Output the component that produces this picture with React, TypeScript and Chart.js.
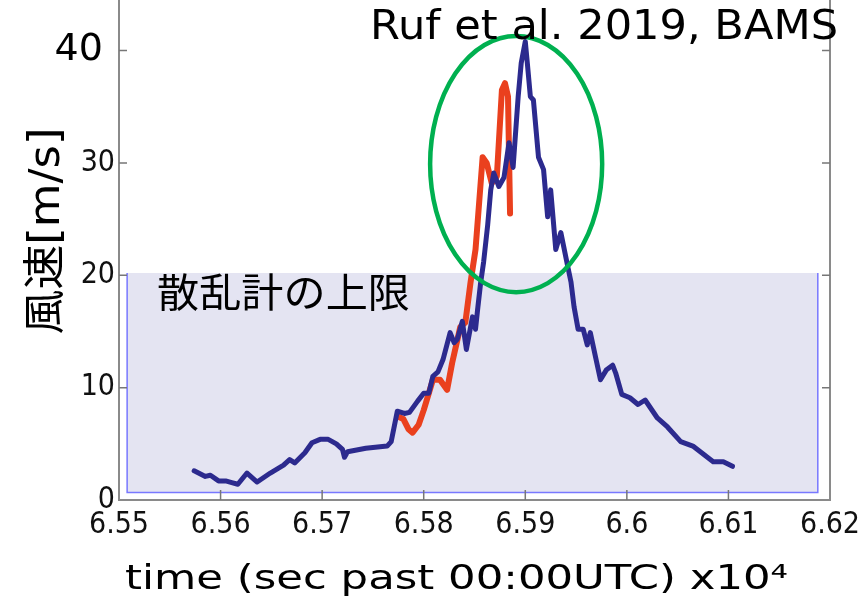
import React, { useEffect, useRef } from 'react';
import { Chart, registerables } from 'chart.js';

Chart.register(...registerables);

// ---- data ----
const X_TICKS = [6.55, 6.56, 6.57, 6.58, 6.59, 6.6, 6.61, 6.62];
const Y_TICKS = [0, 10, 20, 30, 40];
const X_RANGE = [6.55, 6.62];
const Y_RANGE = [0, 44.5];

const BLUE_X = [
  6.5574, 6.5585, 6.559, 6.5598, 6.5605, 6.5611, 6.5617, 6.5626, 6.5631, 6.5636,
  6.5649, 6.5662, 6.5668, 6.5673, 6.5683, 6.569, 6.5698, 6.5706, 6.5714, 6.572,
  6.5722, 6.5725, 6.5743, 6.5764, 6.5768, 6.5774, 6.5781, 6.5786, 6.5794, 6.58,
  6.5805, 6.5809, 6.5814, 6.5819, 6.5826, 6.583, 6.5833, 6.5838, 6.5842, 6.5848,
  6.5851, 6.5853, 6.5856, 6.5859, 6.5863, 6.5866, 6.5869, 6.5874, 6.5879, 6.5884,
  6.5888, 6.5893, 6.5896, 6.59, 6.5902, 6.5905, 6.5908, 6.5913, 6.5918, 6.5922,
  6.5925, 6.593, 6.5935, 6.5942, 6.5945, 6.5948, 6.5952, 6.5957, 6.5961, 6.5964,
  6.5969, 6.5974, 6.598, 6.5986, 6.5989, 6.5995, 6.6003, 6.6011, 6.6018, 6.603,
  6.604, 6.6053, 6.6065, 6.6085, 6.6095, 6.6104,
];
const BLUE_Y = [
  2.6, 2.1, 2.2, 1.7, 1.7, 1.55, 1.4, 2.4, 2.0, 1.6,
  2.4, 3.1, 3.6, 3.3, 4.2, 5.1, 5.4, 5.4, 5.0, 4.5,
  3.8, 4.3, 4.6, 4.8, 5.2, 7.9, 7.7, 7.8, 8.8, 9.5,
  9.5, 11.0, 11.4, 12.5, 14.9, 14.0, 14.3, 15.9, 13.4, 16.3,
  15.2, 16.9, 19.3, 21.2, 24.5, 27.6, 29.1, 27.9, 28.7, 31.8,
  29.6, 35.9, 38.9, 40.8, 38.9, 35.9, 35.6, 30.5, 29.4, 25.2,
  27.6, 22.3, 23.8, 20.7, 19.4, 17.2, 15.2, 15.2, 13.8, 14.9,
  12.8, 10.7, 11.6, 12.0, 11.3, 9.4, 9.1, 8.5, 8.9, 7.3,
  6.5, 5.2, 4.8, 3.4, 3.4, 3.0,
];

const RED_X = [
  6.5775, 6.578, 6.5785, 6.5789, 6.5795, 6.58, 6.5809, 6.5816, 6.5823, 6.5828,
  6.5836, 6.5841, 6.5846, 6.5851, 6.5854, 6.5858, 6.5862, 6.5867, 6.5872, 6.5877,
  6.588, 6.5883, 6.5885,
];
const RED_Y = [
  7.4, 7.2, 6.3, 6.0, 6.7, 8.0, 10.7, 10.7, 9.8, 12.2,
  15.4, 15.8, 19.3, 22.3, 25.8, 30.5, 30.0, 28.2, 28.8, 36.5,
  37.1, 35.9, 25.5,
];

// scatterometer upper-limit band
const LIMIT_X = [6.5508, 6.6188];
const LIMIT_Y = [0.67, 20.2];

// highlighted region (centre and radii in data units)
const ELLIPSE_CENTER = [6.5891, 29.9];
const ELLIPSE_RADII = [0.00847, 11.4];

const TITLE = 'Ruf et al. 2019, BAMS';
const LIMIT_LABEL = '散乱計の上限';
const X_TITLE = 'time (sec past 00:00UTC) x10⁴';
const Y_TITLE = '風速[m/s]';

const TICK_FONT = '"Liberation Sans Narrow", "DejaVu Sans Condensed", "Liberation Sans", Arial, sans-serif';
const TEXT_FONT = '"DejaVu Sans", "Noto Sans CJK JP", sans-serif';

function drawFit(
  ctx: CanvasRenderingContext2D,
  text: string,
  x: number,
  y: number,
  width: number,
  font: string,
  align: CanvasTextAlign,
  baseline: CanvasTextBaseline,
  rotate = 0
) {
  ctx.save();
  ctx.font = font;
  ctx.textAlign = align;
  ctx.textBaseline = baseline;
  ctx.fillStyle = '#000';
  const w = ctx.measureText(text).width;
  ctx.translate(x, y);
  if (rotate) ctx.rotate(rotate);
  ctx.scale(width / w, 1);
  ctx.fillText(text, 0, 0);
  ctx.restore();
}

const decorPlugin = {
  id: 'decor',
  beforeDatasetsDraw(chart: any) {
    const { ctx, scales } = chart;
    const xs = scales.x;
    const ys = scales.y;
    const l = xs.getPixelForValue(LIMIT_X[0]);
    const r = xs.getPixelForValue(LIMIT_X[1]);
    const b = ys.getPixelForValue(LIMIT_Y[0]);
    const t = ys.getPixelForValue(LIMIT_Y[1]);
    ctx.save();
    ctx.fillStyle = '#e4e4f2';
    ctx.fillRect(l, t, r - l, b - t);
    ctx.strokeStyle = '#7878ff';
    ctx.lineWidth = 1.5;
    ctx.beginPath();
    ctx.moveTo(l, t);
    ctx.lineTo(l, b);
    ctx.lineTo(r, b);
    ctx.lineTo(r, t);
    ctx.stroke();
    ctx.restore();
  },
  afterDatasetsDraw(chart: any) {
    const { ctx, scales, chartArea } = chart;
    const xs = scales.x;
    const ys = scales.y;
    ctx.save();
    // axes frame
    ctx.strokeStyle = '#8a8a8a';
    ctx.lineWidth = 2;
    ctx.beginPath();
    ctx.moveTo(chartArea.left, chartArea.top);
    ctx.lineTo(chartArea.left, chartArea.bottom);
    ctx.lineTo(chartArea.right, chartArea.bottom);
    ctx.lineTo(chartArea.right, chartArea.top);
    ctx.stroke();
    // inward ticks
    ctx.lineWidth = 1.5;
    ctx.strokeStyle = '#777';
    ctx.beginPath();
    Y_TICKS.forEach((v) => {
      if (v === 0) return;
      const py = ys.getPixelForValue(v);
      ctx.moveTo(chartArea.left, py);
      ctx.lineTo(chartArea.left + 8, py);
      ctx.moveTo(chartArea.right, py);
      ctx.lineTo(chartArea.right - 8, py);
    });
    X_TICKS.forEach((v, i) => {
      if (i === 0 || i === X_TICKS.length - 1) return;
      const px = xs.getPixelForValue(v);
      ctx.moveTo(px, chartArea.bottom);
      ctx.lineTo(px, chartArea.bottom - 10);
    });
    ctx.stroke();

    // ellipse
    const cx = xs.getPixelForValue(ELLIPSE_CENTER[0]);
    const cy = ys.getPixelForValue(ELLIPSE_CENTER[1]);
    const rx = Math.abs(xs.getPixelForValue(ELLIPSE_CENTER[0] + ELLIPSE_RADII[0]) - cx);
    const ry = Math.abs(ys.getPixelForValue(ELLIPSE_CENTER[1] + ELLIPSE_RADII[1]) - cy);
    ctx.strokeStyle = '#00b050';
    ctx.lineWidth = 4.5;
    ctx.beginPath();
    ctx.ellipse(cx, cy, rx, ry, 0, 0, Math.PI * 2);
    ctx.stroke();
    ctx.restore();

    // texts
    drawFit(ctx, TITLE, 838, 39, 468, `40px ${TEXT_FONT}`, 'right', 'alphabetic');
    drawFit(ctx, LIMIT_LABEL, 157, 292, 253, `40px "Noto Sans CJK JP", sans-serif`, 'left', 'middle');
    drawFit(ctx, X_TITLE, 125, 589, 663, `34px ${TEXT_FONT}`, 'left', 'alphabetic');
    drawFit(ctx, Y_TITLE, 48, 231, 207, `42px ${TEXT_FONT}`, 'center', 'middle', -Math.PI / 2);
  },
};

export default function App() {
  const ref = useRef<HTMLCanvasElement | null>(null);
  useEffect(() => {
    if (!ref.current) return;
    const blue = BLUE_X.map((x, i) => ({ x, y: BLUE_Y[i] }));
    const red = RED_X.map((x, i) => ({ x, y: RED_Y[i] }));
    const chart = new Chart(ref.current, {
      type: 'line',
      data: {
        datasets: [
          {
            label: 'blue',
            data: blue,
            borderColor: '#2c2a8e',
            borderWidth: 5,
            pointRadius: 0,
            tension: 0,
            fill: false,
            borderJoinStyle: 'round',
            borderCapStyle: 'round',
          },
          {
            label: 'red',
            data: red,
            borderColor: '#ea401e',
            borderWidth: 6,
            pointRadius: 0,
            tension: 0,
            fill: false,
            borderJoinStyle: 'round',
            borderCapStyle: 'round',
          },
        ],
      },
      options: {
        animation: false,
        responsive: false,
        events: [],
        layout: { padding: { left: 0, right: 29, top: 0, bottom: 0 } },
        plugins: { legend: { display: false }, tooltip: { enabled: false }, title: { display: false } },
        scales: {
          x: {
            type: 'linear',
            min: X_RANGE[0],
            max: X_RANGE[1],
            grid: { display: false, drawTicks: false },
            border: { display: false },
            afterBuildTicks: (s: any) => {
              s.ticks = X_TICKS.map((v) => ({ value: v }));
            },
            afterFit: (s: any) => {
              s.height = 106;
              s.paddingLeft = 0;
              s.paddingRight = 0;
            },
            ticks: {
              autoSkip: false,
              maxRotation: 0,
              padding: 10,
              color: '#111',
              font: { family: TICK_FONT, size: 30, lineHeight: 1 },
              callback: (v: any) => String(Number(v)),
            },
          },
          y: {
            type: 'linear',
            min: Y_RANGE[0],
            max: Y_RANGE[1],
            grid: { display: false, drawTicks: false },
            border: { display: false },
            afterBuildTicks: (s: any) => {
              s.ticks = Y_TICKS.map((v) => ({ value: v }));
            },
            afterFit: (s: any) => {
              s.width = 119;
              s.paddingTop = 0;
              s.paddingBottom = 0;
            },
            ticks: {
              autoSkip: false,
              padding: 4,
              color: (c: any) => (c.tick && c.tick.value === 40 ? '#000' : '#111'),
              font: (c: any) =>
                c.tick && c.tick.value === 40
                  ? { family: TEXT_FONT, size: 38, lineHeight: 1 }
                  : { family: TICK_FONT, size: 30, lineHeight: 1 },
              callback: (v: any) => (Number(v) === 40 ? '40 ' : String(v)),
            },
          },
        },
      },
      plugins: [decorPlugin],
    });
    return () => chart.destroy();
  }, []);
  return (
    <div style={{ position: 'fixed', left: 0, top: 0, width: 859, height: 606, background: '#fff' }}>
      <canvas ref={ref} width={859} height={606} style={{ display: 'block', width: 859, height: 606 }} />
    </div>
  );
}
